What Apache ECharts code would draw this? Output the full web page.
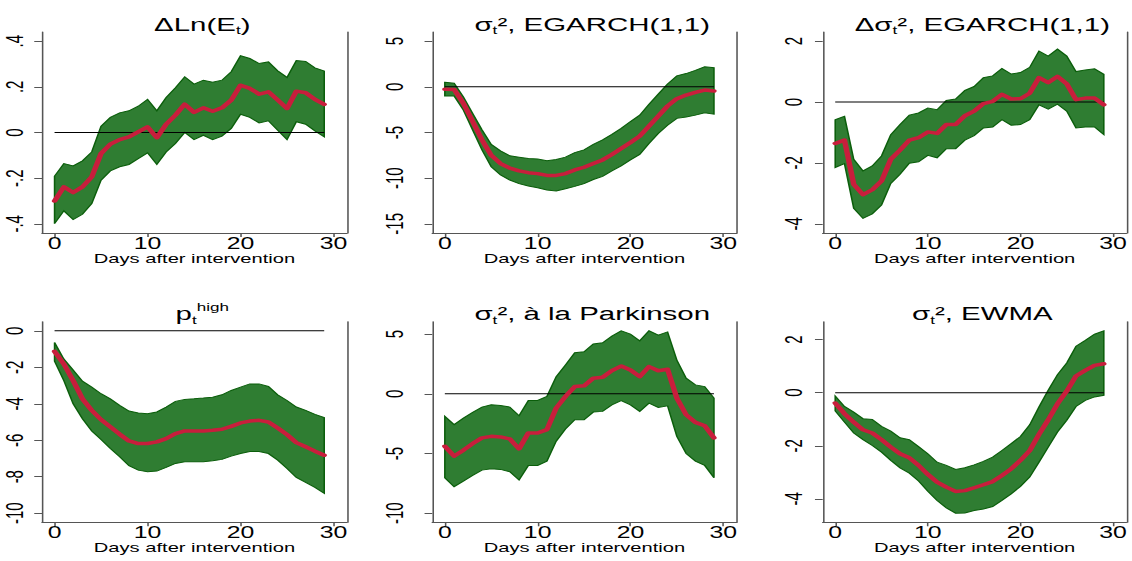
<!DOCTYPE html>
<html>
<head>
<meta charset="utf-8">
<script src="https://cdn.jsdelivr.net/npm/echarts@6/dist/echarts.min.js"></script>
<style>
  html, body { margin: 0; padding: 0; background: #fff; overflow: hidden; }
  #chart { height: 561px; transform-origin: 0 0; }
</style>
</head>
<body>
<div id="chart"></div>
<script>
// horizontal irf days
var days = [0, 1, 2, 3, 4, 5, 6, 7, 8, 9, 10, 11, 12, 13, 14, 15, 16, 17, 18, 19, 20, 21, 22, 23, 24, 25, 26, 27, 28, 29];
var xTicks = [0, 10, 20, 30];

// panel 1: dLn(E)
var lnE_mean = [-0.30, -0.238, -0.263, -0.238, -0.194, -0.092, -0.051, -0.031, -0.019, 0.003, 0.025, -0.023, 0.036, 0.076, 0.124, 0.088, 0.108, 0.093, 0.108, 0.142, 0.207, 0.193, 0.168, 0.178, 0.142, 0.105, 0.181, 0.174, 0.145, 0.123];
var lnE_hi = [-0.191, -0.136, -0.146, -0.124, -0.085, 0.028, 0.066, 0.086, 0.095, 0.115, 0.145, 0.095, 0.153, 0.196, 0.244, 0.212, 0.229, 0.220, 0.229, 0.266, 0.336, 0.324, 0.302, 0.309, 0.270, 0.241, 0.315, 0.311, 0.283, 0.269];
var lnE_lo = [-0.399, -0.343, -0.381, -0.358, -0.311, -0.209, -0.168, -0.150, -0.140, -0.114, -0.089, -0.140, -0.085, -0.048, 0.0, -0.031, -0.012, -0.031, -0.016, 0.018, 0.080, 0.066, 0.042, 0.051, 0.010, -0.031, 0.047, 0.036, 0.007, -0.019];
var lnE_ticks = [-0.4, -0.2, 0, 0.2, 0.4];
var lnE_labels = ['-.4', '-.2', '0', '.2', '.4'];

// panel 2: sigma2 EGARCH
var eg_mean = [-0.26, -0.3, -1.8, -3.8, -5.8, -7.5, -8.4, -8.9, -9.2, -9.4, -9.5, -9.7, -9.7, -9.5, -9.1, -8.8, -8.4, -8.0, -7.4, -6.75, -6.1, -5.4, -4.3, -3.2, -2.1, -1.3, -0.9, -0.6, -0.35, -0.45];
var eg_hi = [0.5, 0.4, -1.1, -2.9, -4.7, -6.3, -7.0, -7.55, -7.7, -7.85, -7.9, -8.1, -7.95, -7.7, -7.2, -6.9, -6.3, -5.8, -5.2, -4.55, -3.8, -3.1, -1.9, -0.8, 0.3, 1.2, 1.45, 1.8, 2.2, 2.1];
var eg_lo = [-1.0, -1.0, -2.55, -4.75, -6.9, -8.75, -9.65, -10.2, -10.6, -10.85, -11.05, -11.3, -11.4, -11.15, -10.9, -10.6, -10.15, -9.8, -9.2, -8.65, -8.0, -7.4, -6.2, -5.1, -4.2, -3.45, -3.3, -3.1, -2.85, -3.0];
var eg_ticks = [-15, -10, -5, 0, 5];
var eg_labels = ['-15', '-10', '-5', '0', '5'];

// panel 3: d sigma2 EGARCH
var deg_mean = [-1.36, -1.25, -2.7, -3.04, -2.88, -2.59, -1.88, -1.58, -1.25, -1.17, -0.98, -1.03, -0.74, -0.74, -0.45, -0.30, -0.05, 0.02, 0.25, 0.10, 0.11, 0.29, 0.80, 0.64, 0.84, 0.60, 0.08, 0.13, 0.13, -0.09];
var deg_hi = [-0.58, -0.47, -1.88, -2.26, -2.10, -1.77, -1.07, -0.74, -0.43, -0.36, -0.20, -0.25, 0.05, 0.10, 0.38, 0.51, 0.80, 0.86, 1.10, 0.92, 0.97, 1.14, 1.67, 1.51, 1.74, 1.51, 1.0, 1.05, 1.09, 0.91];
var deg_lo = [-2.15, -2.02, -3.49, -3.82, -3.67, -3.38, -2.67, -2.37, -2.01, -1.96, -1.75, -1.83, -1.53, -1.53, -1.25, -1.10, -0.85, -0.82, -0.58, -0.76, -0.74, -0.58, -0.09, -0.23, -0.07, -0.30, -0.85, -0.82, -0.82, -1.07];
var deg_ticks = [-4, -2, 0, 2];
var deg_labels = ['-4', '-2', '0', '2'];

// panel 4: p high
var ph_mean = [-1.13, -1.82, -2.73, -3.73, -4.36, -4.87, -5.27, -5.67, -6.04, -6.18, -6.18, -6.09, -5.91, -5.64, -5.49, -5.49, -5.49, -5.45, -5.40, -5.24, -5.05, -4.95, -4.91, -5.0, -5.33, -5.69, -6.13, -6.36, -6.6, -6.82];
var ph_hi = [-0.64, -1.55, -2.15, -2.76, -3.09, -3.45, -3.73, -4.09, -4.40, -4.51, -4.55, -4.45, -4.18, -3.87, -3.76, -3.73, -3.69, -3.64, -3.51, -3.27, -3.09, -2.91, -2.91, -3.05, -3.51, -3.82, -4.18, -4.36, -4.58, -4.76];
var ph_lo = [-1.67, -2.73, -4.0, -4.82, -5.49, -5.96, -6.45, -6.91, -7.4, -7.64, -7.73, -7.69, -7.49, -7.27, -7.18, -7.18, -7.18, -7.13, -7.05, -6.87, -6.73, -6.62, -6.62, -6.73, -7.09, -7.55, -8.04, -8.31, -8.58, -8.91];
var ph_ticks = [-10, -8, -6, -4, -2, 0];
var ph_labels = ['-10', '-8', '-6', '-4', '-2', '0'];

// panel 5: sigma2 Parkinson
var pk_mean = [-4.39, -5.22, -4.72, -4.17, -3.69, -3.56, -3.61, -3.78, -4.61, -3.28, -3.28, -3.0, -1.19, -0.22, 0.61, 0.67, 1.31, 1.39, 1.94, 2.33, 2.0, 1.44, 2.28, 1.94, 2.06, -0.36, -1.75, -2.39, -2.67, -3.69];
var pk_hi = [-1.89, -2.58, -2.03, -1.56, -1.11, -0.92, -0.97, -1.11, -1.83, -0.56, -0.56, -0.22, 1.44, 2.42, 3.44, 3.53, 4.17, 4.28, 4.83, 5.28, 5.0, 4.44, 5.28, 4.92, 5.19, 2.83, 1.31, 0.75, 0.61, -0.36];
var pk_lo = [-7.03, -7.78, -7.31, -6.83, -6.39, -6.28, -6.33, -6.53, -7.22, -6.0, -6.0, -5.64, -3.97, -2.94, -2.17, -2.17, -1.53, -1.47, -0.92, -0.56, -0.92, -1.47, -0.78, -1.14, -1.0, -3.56, -5.0, -5.64, -6.0, -7.03];
var pk_ticks = [-10, -5, 0, 5];
var pk_labels = ['-10', '-5', '0', '5'];

// panel 6: sigma2 EWMA
var ew_mean = [-0.39, -0.79, -1.11, -1.40, -1.52, -1.77, -2.05, -2.30, -2.45, -2.74, -3.08, -3.37, -3.56, -3.72, -3.69, -3.58, -3.47, -3.35, -3.12, -2.87, -2.55, -2.18, -1.57, -1.02, -0.42, 0.06, 0.63, 0.84, 1.03, 1.09];
var ew_hi = [-0.13, -0.52, -0.73, -0.98, -1.01, -1.27, -1.45, -1.70, -1.77, -2.03, -2.30, -2.62, -2.74, -2.89, -2.83, -2.72, -2.59, -2.43, -2.18, -1.92, -1.65, -1.21, -0.54, 0.09, 0.68, 1.12, 1.75, 1.97, 2.20, 2.33];
var ew_lo = [-0.69, -1.11, -1.52, -1.77, -1.99, -2.24, -2.55, -2.83, -3.03, -3.33, -3.71, -4.06, -4.34, -4.54, -4.53, -4.44, -4.38, -4.29, -4.06, -3.81, -3.53, -3.18, -2.62, -2.05, -1.48, -1.04, -0.52, -0.29, -0.16, -0.10];
var ew_ticks = [-4, -2, 0, 2];
var ew_labels = ['-4', '-2', '0', '2'];

var titles = [
  '{a|ΔLn(E}{s|t}{a|)}',
  '{a|σ}{s|t}{a|², EGARCH(1,1)}',
  '{a|Δσ}{s|t}{a|², EGARCH(1,1)}',
  '{a|p}{s|t}{h|high}',
  '{a|σ}{s|t}{a|², à la Parkinson}',
  '{a|σ}{s|t}{a|², EWMA}'
];

var panels = [
  { mean: lnE_mean, lo: lnE_lo, hi: lnE_hi, ticks: lnE_ticks, labels: lnE_labels },
  { mean: eg_mean, lo: eg_lo, hi: eg_hi, ticks: eg_ticks, labels: eg_labels },
  { mean: deg_mean, lo: deg_lo, hi: deg_hi, ticks: deg_ticks, labels: deg_labels },
  { mean: ph_mean, lo: ph_lo, hi: ph_hi, ticks: ph_ticks, labels: ph_labels },
  { mean: pk_mean, lo: pk_lo, hi: pk_hi, ticks: pk_ticks, labels: pk_labels },
  { mean: ew_mean, lo: ew_lo, hi: ew_hi, ticks: ew_ticks, labels: ew_labels }
];

// the picture is stretched sideways, so lay out narrow and scale x
var S = 1.55;
var W = 1132, H = 561;
var colL = [42, 432.3, 822.7], colR = [347, 736.7, 1126.5];
var rowT = [32, 321.7], rowB = [233, 522.3];
var labMargin = [10, 17, 11];

var FONT = '"Liberation Sans", Arial, Helvetica, sans-serif';
var BAND = '#2f7d32', EDGE = '#0b5e0b', RED = '#c81e3c', AXIS = '#555555';

var el = document.getElementById('chart');
el.style.width = (W / S) + 'px';
el.style.transform = 'scaleX(' + S + ')';
var chart = echarts.init(el, null, { renderer: 'svg' });

function yRange(p) {
  var a = Math.min(p.ticks[0], Math.min.apply(null, p.lo));
  var b = Math.max(p.ticks[p.ticks.length - 1], Math.max.apply(null, p.hi));
  var pad = (b - a) * 0.05;
  return [a - pad, b + pad];
}

var grid = [], xAxis = [], yAxis = [], series = [], title = [];

panels.forEach(function (p, i) {
  var c = i % 3, r = Math.floor(i / 3);
  var rg = yRange(p);
  grid.push({
    left: colL[c] / S, top: rowT[r],
    width: (colR[c] - colL[c]) / S, height: rowB[r] - rowT[r],
    containLabel: false, outerBoundsMode: 'none'
  });
  title.push({
    text: titles[i],
    left: (colL[c] + colR[c]) / 2 / S, top: rowT[r] - 25,
    textAlign: 'center',
    textStyle: {
      fontWeight: 'normal',
      rich: {
        a: { fontFamily: FONT, fontSize: 19, fontWeight: 'normal', color: '#000', lineHeight: 24, verticalAlign: 'middle' },
        s: { fontFamily: FONT, fontSize: 11, fontWeight: 'normal', color: '#000', lineHeight: 11, verticalAlign: 'bottom' },
        h: { fontFamily: FONT, fontSize: 11, fontWeight: 'normal', color: '#000', lineHeight: 13, verticalAlign: 'top' }
      }
    }
  });
  xAxis.push({
    type: 'value', gridIndex: i, min: -1.35, max: 31.45,
    axisLine: { show: true, onZero: false, lineStyle: { color: AXIS, width: 1 } },
    axisTick: { show: true, customValues: xTicks, length: 4, lineStyle: { color: AXIS } },
    axisLabel: { customValues: xTicks, fontFamily: FONT, fontSize: 16, color: '#000', margin: 2 },
    splitLine: { show: false },
    name: 'Days after intervention', nameLocation: 'middle', nameGap: 19,
    nameTextStyle: { fontFamily: FONT, fontSize: 13, color: '#000', verticalAlign: 'top' }
  });
  yAxis.push({
    type: 'value', gridIndex: i, min: rg[0], max: rg[1], position: 'left',
    axisLine: { show: true, onZero: false, lineStyle: { color: AXIS, width: 1 } },
    axisTick: { show: true, customValues: p.ticks, length: 5, lineStyle: { color: AXIS } },
    axisLabel: {
      customValues: p.ticks, rotate: 90, fontFamily: FONT, fontSize: 15, color: '#000',
      margin: labMargin[c],
      formatter: function (v) {
        for (var k = 0; k < p.ticks.length; k++) {
          if (Math.abs(p.ticks[k] - v) < 1e-9) return p.labels[k];
        }
        return '';
      }
    },
    splitLine: { show: false }
  });
  yAxis.push({
    type: 'value', gridIndex: i, min: rg[0], max: rg[1], position: 'right',
    axisLine: { show: true, onZero: false, lineStyle: { color: AXIS, width: 1 } },
    axisTick: { show: false }, axisLabel: { show: false }, splitLine: { show: false }
  });

  // confidence band
  series.push({
    type: 'custom', xAxisIndex: i, yAxisIndex: 2 * i, z: 1, silent: true,
    data: [0],
    renderItem: function (params, api) {
      var pts = [];
      for (var k = 0; k < days.length; k++) pts.push(api.coord([days[k], p.hi[k]]));
      for (var k = days.length - 1; k >= 0; k--) pts.push(api.coord([days[k], p.lo[k]]));
      return {
        type: 'polygon', shape: { points: pts },
        style: { fill: BAND, stroke: EDGE, lineWidth: 1 }
      };
    }
  });
  // zero line
  series.push({
    type: 'line', xAxisIndex: i, yAxisIndex: 2 * i, z: 3, silent: true,
    symbol: 'none',
    data: days.map(function (d) { return [d, 0]; }),
    lineStyle: { color: '#000', width: 1 }
  });
  // point estimate
  series.push({
    type: 'line', xAxisIndex: i, yAxisIndex: 2 * i, z: 4, silent: true,
    symbol: 'none',
    data: days.map(function (d, k) { return [d, p.mean[k]]; }),
    lineStyle: { color: RED, width: 3.5, join: 'round', cap: 'round' }
  });
});

chart.setOption({
  animation: false,
  backgroundColor: '#fff',
  title: title,
  grid: grid,
  xAxis: xAxis,
  yAxis: yAxis,
  series: series
});
</script>
</body>
</html>
